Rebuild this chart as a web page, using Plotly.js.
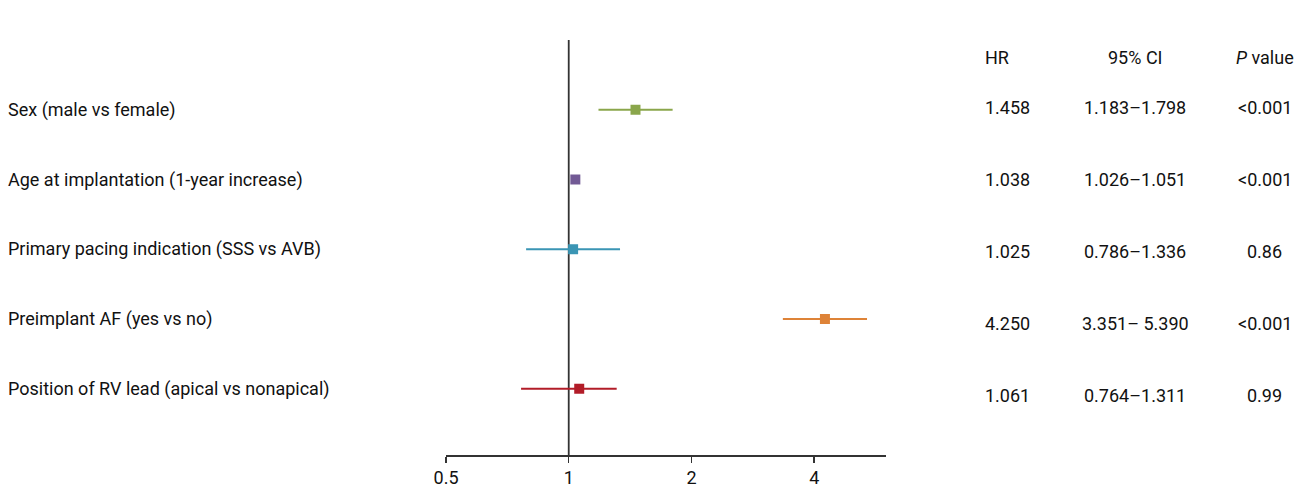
<!DOCTYPE html>
<html>
<head>
<meta charset="utf-8">
<script src="https://cdn.plot.ly/plotly-3.0.1.min.js"></script>
<style>html,body{margin:0;padding:0;background:#fff;}#chart{width:1308px;height:489px;}</style>
</head>
<body>
<div id="chart"></div>
<script>
// ---- data ----
const labels = [
  "Sex (male vs female)",
  "Age at implantation (1-year increase)",
  "Primary pacing indication (SSS vs AVB)",
  "Preimplant AF (yes vs no)",
  "Position of RV lead (apical vs nonapical)"
];
const hr     = [1.458, 1.038, 1.025, 4.250, 1.061];
const ciLow  = [1.183, 1.026, 0.786, 3.351, 0.764];
const ciHigh = [1.798, 1.051, 1.336, 5.390, 1.311];
const hrText = ["1.458", "1.038", "1.025", "4.250", "1.061"];
const ciText = ["1.183\u20131.798", "1.026\u20131.051", "0.786\u20131.336", "3.351\u2013 5.390", "0.764\u20131.311"];
const pText  = ["<0.001", "<0.001", "0.86", "<0.001", "0.99"];
const headers = ["HR", "95% CI", "<i>P</i> value"];
const tickVals = [0.5, 1, 2, 4];
const tickText = ["0.5", "1", "2", "4"];

// ---- style ----
const colors = ["#8aa64b", "#725a95", "#3a95b4", "#de8338", "#b21c28"];
const FONT = "Roboto, 'Noto Sans', sans-serif";
const TXT = "#111";
const FS = 18;
const n = labels.length;
const rowY = labels.map((_, i) => n - i);

const traces = labels.map((lab, i) => ({
  type: "scatter",
  mode: "markers",
  x: [hr[i]],
  y: [rowY[i]],
  name: lab,
  marker: {symbol: "square", size: 10, color: colors[i]},
  error_x: {
    type: "data", symmetric: false,
    array: [ciHigh[i] - hr[i]],
    arrayminus: [hr[i] - ciLow[i]],
    color: colors[i], thickness: 2, width: 0
  },
  showlegend: false,
  hoverinfo: "skip"
}));

const annotations = [];
labels.forEach((lab, i) => {
  annotations.push({xref: "paper", yref: "y", x: -1.0, y: rowY[i], text: lab,
    showarrow: false, xanchor: "left", yanchor: "middle", font: {family: FONT, size: FS, color: TXT}});
  annotations.push({xref: "paper", yref: "y2", x: 1.22, y: rowY[i], text: hrText[i],
    showarrow: false, xanchor: "left", yanchor: "middle", font: {family: FONT, size: FS, color: TXT}});
  annotations.push({xref: "paper", yref: "y2", x: 1.567, y: rowY[i], text: ciText[i],
    showarrow: false, xanchor: "center", yanchor: "middle", font: {family: FONT, size: FS, color: TXT}});
  annotations.push({xref: "paper", yref: "y2", x: 1.861, y: rowY[i], text: pText[i],
    showarrow: false, xanchor: "center", yanchor: "middle", font: {family: FONT, size: FS, color: TXT}});
});
const headX = [1.22, 1.567, 1.861];
const headAnchor = ["left", "center", "center"];
headers.forEach((h, j) => {
  annotations.push({xref: "paper", yref: "paper", x: headX[j], y: 0.959, text: h,
    showarrow: false, xanchor: headAnchor[j], yanchor: "middle", font: {family: FONT, size: FS, color: TXT}});
});

const layout = {
  width: 1308, height: 489,
  margin: {l: 446, r: 422, t: 40, b: 34},
  paper_bgcolor: "#fff", plot_bgcolor: "#fff",
  font: {family: FONT, size: FS, color: TXT},
  xaxis: {
    type: "log",
    range: [Math.log10(0.5), Math.log10(6)],
    tickvals: tickVals, ticktext: tickText,
    ticks: "outside", ticklen: 6, tickwidth: 1.5, tickcolor: "#333",
    showline: true, linecolor: "#333", linewidth: 1.5,
    showgrid: false, zeroline: false,
    tickfont: {family: FONT, size: FS, color: TXT},
    fixedrange: true
  },
  yaxis: {range: [0.05, 6.0], visible: false, showgrid: false, zeroline: false, fixedrange: true},
  yaxis2: {range: [0.18, 5.944], overlaying: "y", anchor: "x", visible: false, showgrid: false, zeroline: false},
  shapes: [{type: "line", xref: "x", yref: "paper", x0: 1, x1: 1, y0: 0, y1: 1,
    line: {color: "#333", width: 1.8}, layer: "below"}],
  annotations: annotations,
  showlegend: false
};

Plotly.newPlot("chart", traces, layout, {displayModeBar: false, staticPlot: true});
</script>
</body>
</html>
